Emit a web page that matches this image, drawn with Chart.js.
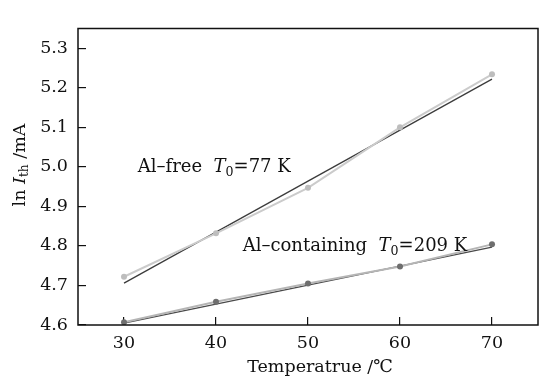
<!DOCTYPE html>
<html>
<head>
<meta charset="utf-8">
<script src="https://cdn.jsdelivr.net/npm/chart.js@4.4.1/dist/chart.umd.min.js"></script>
<style>
  html, body { margin: 0; padding: 0; background: #fff; }
  #wrap { width: 550px; height: 383px; }
</style>
</head>
<body>
<div id="wrap"><canvas id="chart"></canvas></div>
<script>
const temps = [30, 40, 50, 60, 70];
const alFree = [4.722, 4.832, 4.947, 5.100, 5.234];
const alContaining = [4.607, 4.659, 4.705, 4.748, 4.804];

// fitted lines, read at both ends
const fitX = [30, 70];
const alFreeFit = [4.706, 5.222];
const alContainingFit = [4.605, 4.797];

const xTicks = [30, 40, 50, 60, 70];
const yTicks = [4.6, 4.7, 4.8, 4.9, 5.0, 5.1, 5.2, 5.3];

const SERIF = "'DejaVu Serif', 'Liberation Serif', serif";

function pts(xs, ys) {
    return xs.map((x, i) => ({ x: x, y: ys[i] }));
}

// draw a run of text pieces (normal / italic / subscript)
function drawRuns(ctx, runs, x, y, size, align) {
    let widths = runs.map(r => {
        ctx.font = (r.italic ? "italic " : "") + (r.sub ? size * 0.7 : size) + "px " + SERIF;
        return ctx.measureText(r.t).width;
    });
    let total = widths.reduce((a, b) => a + b, 0);
    let cx = align === "center" ? x - total / 2 : x;
    runs.forEach((r, i) => {
        ctx.font = (r.italic ? "italic " : "") + (r.sub ? size * 0.7 : size) + "px " + SERIF;
        ctx.fillText(r.t, cx, r.sub ? y + size * 0.25 : y);
        cx += widths[i];
    });
}

const decorPlugin = {
    id: "decor",
    afterDraw(chart) {
        const ctx = chart.ctx;
        const a = chart.chartArea;
        const xs = chart.scales.x, ys = chart.scales.y;
        ctx.save();
        // frame
        ctx.strokeStyle = "#111";
        ctx.lineWidth = 1.5;
        ctx.strokeRect(a.left, a.top, a.right - a.left, a.bottom - a.top);

        ctx.fillStyle = "#111";
        ctx.textBaseline = "alphabetic";
        ctx.textAlign = "left";

        // annotations
        drawRuns(ctx, [
            { t: "Al\u2013free  " }, { t: "T", italic: true }, { t: "0", sub: true }, { t: "=77 K" }
        ], xs.getPixelForValue(31.5), ys.getPixelForValue(4.988), 18, "left");
        drawRuns(ctx, [
            { t: "Al\u2013containing  " }, { t: "T", italic: true }, { t: "0", sub: true }, { t: "=209 K" }
        ], xs.getPixelForValue(42.9), ys.getPixelForValue(4.788), 18, "left");

        // x title
        ctx.textBaseline = "middle";
        drawRuns(ctx, [{ t: "Temperatrue /\u2103" }], 320, 367, 17.5, "center");

        // y title
        ctx.translate(20, 165);
        ctx.rotate(-Math.PI / 2);
        drawRuns(ctx, [
            { t: "ln " }, { t: "I", italic: true }, { t: "th", sub: true }, { t: " /mA" }
        ], 0, 0, 17.5, "center");
        ctx.restore();
    }
};

new Chart(document.getElementById("chart"), {
    type: "scatter",
    data: {
        datasets: [
            {
                label: "Al-free",
                data: pts(temps, alFree),
                showLine: true,
                borderColor: "#cbcbcb",
                borderWidth: 2,
                pointRadius: 3,
                pointBackgroundColor: "#bdbdbd",
                pointBorderWidth: 0
            },
            {
                label: "Al-free fit",
                data: pts(fitX, alFreeFit),
                showLine: true,
                borderColor: "#3c3c3c",
                borderWidth: 1.3,
                pointRadius: 0
            },
            {
                label: "Al-containing",
                data: pts(temps, alContaining),
                showLine: true,
                borderColor: "#b5b5b5",
                borderWidth: 2,
                pointRadius: 3,
                pointBackgroundColor: "#6e6e6e",
                pointBorderWidth: 0
            },
            {
                label: "Al-containing fit",
                data: pts(fitX, alContainingFit),
                showLine: true,
                borderColor: "#4a4a4a",
                borderWidth: 1.3,
                pointRadius: 0
            }
        ]
    },
    options: {
        responsive: true,
        maintainAspectRatio: false,
        animation: false,
        layout: { padding: { left: 0, right: 12, top: 6, bottom: 0 } },
        plugins: {
            legend: { display: false },
            tooltip: { enabled: false }
        },
        scales: {
            x: {
                type: "linear",
                min: 25,
                max: 75,
                afterBuildTicks: s => { s.ticks = xTicks.map(v => ({ value: v })); },
                afterFit: s => { s.height = 58; },
                border: { display: false },
                grid: { drawOnChartArea: false, tickLength: -8, color: "#111", lineWidth: 1.2 },
                ticks: {
                    padding: 16,
                    color: "#111",
                    font: { family: SERIF, size: 17.5 }
                }
            },
            y: {
                min: 4.6,
                max: 5.35,
                afterBuildTicks: s => { s.ticks = yTicks.map(v => ({ value: v })); },
                afterFit: s => { s.width = 78; },
                border: { display: false },
                grid: { drawOnChartArea: false, tickLength: -8, color: "#111", lineWidth: 1.2 },
                ticks: {
                    padding: 18,
                    color: "#111",
                    font: { family: SERIF, size: 17.5 },
                    callback: v => v.toFixed(1)
                }
            }
        }
    },
    plugins: [decorPlugin]
});
</script>
</body>
</html>
